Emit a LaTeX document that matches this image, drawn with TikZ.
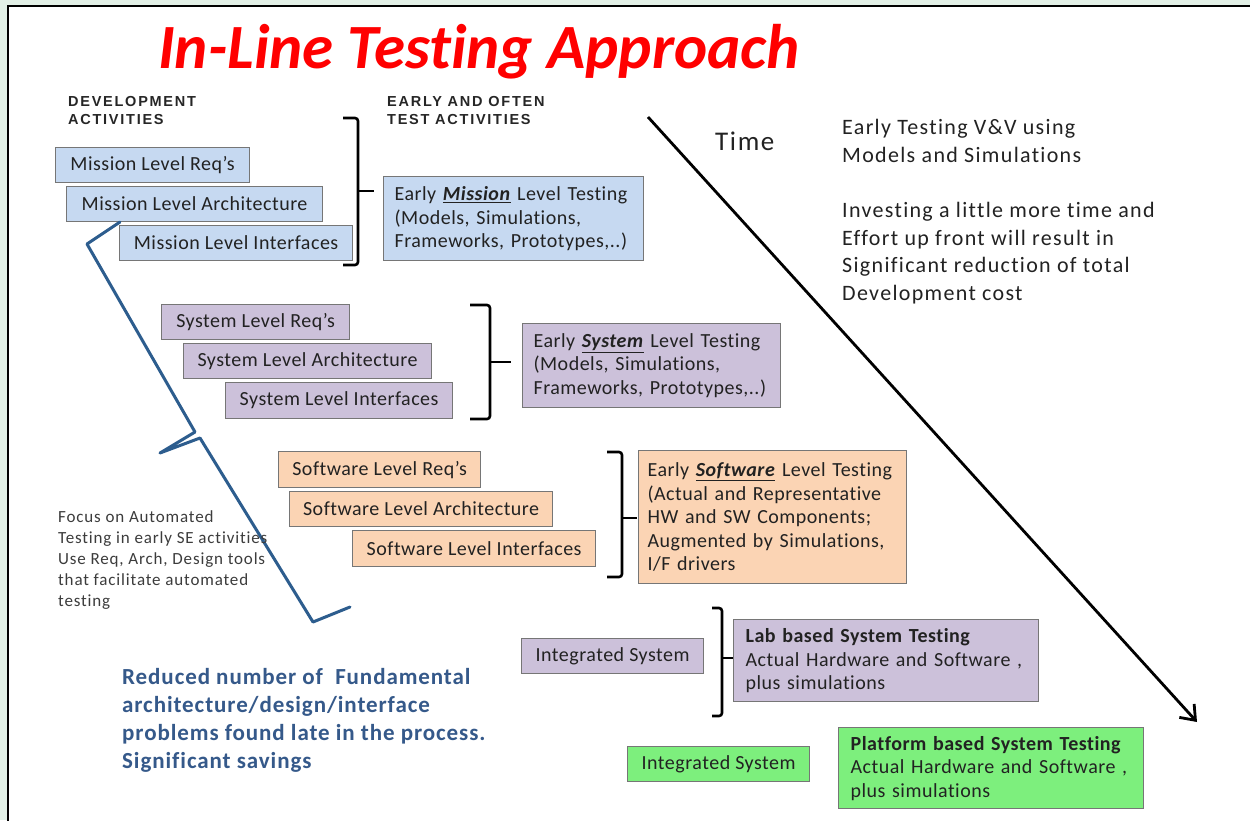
\documentclass[tikz,border=0pt]{standalone}
\usepackage{fontspec}
\setmainfont[Ligatures=NoCommon]{Carlito}
\newfontfamily\hdrfont[LetterSpace=12]{Liberation Sans}
\newfontfamily\boxfont[LetterSpace=2.5,Ligatures=NoCommon]{Carlito}
\newfontfamily\notefont[LetterSpace=6,Ligatures=NoCommon]{Carlito}
\newfontfamily\focusfont[LetterSpace=5,Ligatures=NoCommon]{Carlito}
\newfontfamily\savefont[LetterSpace=4,Ligatures=NoCommon]{Carlito}
\usetikzlibrary{arrows.meta}
\definecolor{bggreen}{HTML}{E2F0E6}
\definecolor{boxborder}{HTML}{767676}
\definecolor{mblue}{HTML}{C6D9F1}
\definecolor{slav}{HTML}{CCC1DA}
\definecolor{speach}{HTML}{FBD4B4}
\definecolor{pgreen}{HTML}{7DEF7D}
\definecolor{bracecol}{HTML}{2D5D8E}
\definecolor{savecol}{HTML}{35598A}
\definecolor{boxtext}{HTML}{222222}
\definecolor{focustext}{HTML}{3C3C3C}
\tikzset{
  box/.style={draw=boxborder, line width=1.2pt, inner sep=0pt, anchor=north west,
    text=boxtext, font=\boxfont\fontsize{20}{23.5}\selectfont},
  bigbox/.style={box, align=left},
  brk/.style={draw=black, line width=2.6pt, rounded corners=3pt},
  hdr/.style={anchor=base west, align=left, inner sep=0pt, text=black!85,
    font=\hdrfont\bfseries\fontsize{14.5}{18}\selectfont},
  note/.style={anchor=base west, align=left, inner sep=0pt, text=boxtext,
    font=\notefont\fontsize{22}{27.5}\selectfont}
}
\begin{document}
\begin{tikzpicture}[x=1pt,y=-1pt]
\useasboundingbox (0,0) rectangle (1250,820);
\fill[bggreen] (0,0) rectangle (1250,820);
\draw[fill=white, line width=1.5pt] (8,6) rectangle (1265,835);

% title
\node[anchor=base, inner sep=0pt, text=red, font=\fontsize{63}{63}\selectfont\bfseries\itshape] (title) at (479,68) {In-Line Testing Approach};

% headers (base anchor = last line)
\node[hdr] (devhdr) at (68,124) {DEVELOPMENT\\ACTIVITIES};
\node[hdr] (testhdr) at (387,124) {EARLY AND OFTEN\\TEST ACTIVITIES};

% mission level
\node[box, fill=mblue, minimum width=194pt, minimum height=35pt] (mreq) at (55,147) {Mission Level Req’s};
\node[box, fill=mblue, minimum width=256pt, minimum height=35pt] (march) at (66,186) {Mission Level Architecture};
\node[box, fill=mblue, minimum width=233pt, minimum height=35pt] (mint) at (119,225) {Mission Level Interfaces};
\node[bigbox, fill=mblue, minimum width=260pt, minimum height=84pt, text width=238pt] (mtest) at (383,176)
 {Early \underline{\textbf{\textit{Mission}}} Level Testing\\(Models, Simulations,\\Frameworks, Prototypes,..)};

% system level
\node[box, fill=slav, minimum width=188pt, minimum height=35pt] (sreq) at (161,304) {System Level Req’s};
\node[box, fill=slav, minimum width=248pt, minimum height=35pt] (sarch) at (183,343) {System Level Architecture};
\node[box, fill=slav, minimum width=227pt, minimum height=36pt] (sint) at (225,382) {System Level Interfaces};
\node[bigbox, fill=slav, minimum width=258pt, minimum height=84pt, text width=236pt] (stest) at (522,323)
 {Early \underline{\textbf{\textit{System}}} Level Testing\\(Models, Simulations,\\Frameworks, Prototypes,..)};

% software level
\node[box, fill=speach, minimum width=202pt, minimum height=36pt] (wreq) at (278,451) {Software Level Req’s};
\node[box, fill=speach, minimum width=263pt, minimum height=35pt] (warch) at (289,491) {Software Level Architecture};
\node[box, fill=speach, minimum width=243pt, minimum height=36pt] (wint) at (352,530) {Software Level Interfaces};
\node[bigbox, fill=speach, minimum width=268pt, minimum height=133pt, text width=250pt] (wtest) at (638,450)
 {Early \underline{\textbf{\textit{Software}}} Level Testing\\(Actual and Representative\\HW and SW Components;\\Augmented by Simulations,\\I/F drivers};

% integrated (lab)
\node[box, fill=slav, minimum width=182pt, minimum height=35pt] (isys) at (521,638) {Integrated System};
\node[bigbox, fill=slav, minimum width=305pt, minimum height=82pt, text width=281pt] (lab) at (733,619)
 {\textbf{Lab based System Testing}\\Actual Hardware and Software ,\\plus simulations};

% integrated (platform)
\node[box, fill=pgreen, minimum width=182pt, minimum height=35pt] (psys) at (627,746) {Integrated System};
\node[bigbox, fill=pgreen, minimum width=305pt, minimum height=81pt, text width=281pt] (plat) at (838,727)
 {\textbf{Platform based System Testing}\\Actual Hardware and Software ,\\plus simulations};

% brackets
\draw[brk] (343,118) -- (358,118) -- (358,265) -- (343,265);
\draw[brk] (358,191) -- (374,191);
\draw[brk] (470,305) -- (490,305) -- (490,419) -- (470,419);
\draw[brk] (490,362) -- (511,362);
\draw[brk] (607,452) -- (622,452) -- (622,577) -- (607,577);
\draw[brk] (622,518) -- (637,518);
\draw[brk] (712,608) -- (722,608) -- (722,716) -- (712,716);
\draw[brk] (722,658) -- (733,658);

% blue rotated brace
\draw[bracecol, line width=3pt, line join=round, line cap=round]
  (120,222) -- (87,244) -- (195,432) -- (160,453) -- (200,438) -- (313,622) -- (350,607);

% time arrow
\coordinate (tstart) at (648,117);
\coordinate (tend) at (1197,722);
\draw[line width=2.8pt, -{Straight Barb[length=13pt,width=20pt,line width=2.8pt]}] (tstart) -- (tend);
\node[anchor=base west, inner sep=0pt, text=boxtext, font=\notefont\fontsize{27}{27}\selectfont] (time) at (715,150) {Time};

% notes (base anchor = last line)
\node[note] (early) at (842,162) {Early Testing V\&V using\\Models and Simulations};
\node[note] (invest) at (842,300) {Investing a little more time and\\Effort up front will result in\\Significant reduction of total\\Development cost};

\node[anchor=base west, align=left, inner sep=0pt, text=focustext, font=\focusfont\fontsize{17}{21}\selectfont] (focus) at (58,606)
 {Focus on Automated\\Testing in early SE activities\\Use Req, Arch, Design tools\\that facilitate automated\\testing};

\node[anchor=base west, align=left, inner sep=0pt, text=savecol, font=\savefont\fontsize{23}{27.7}\selectfont\bfseries] (savings) at (122,768)
 {Reduced number of \ Fundamental\\architecture/design/interface\\problems found late in the process.\\Significant savings};
\end{tikzpicture}
\end{document}
